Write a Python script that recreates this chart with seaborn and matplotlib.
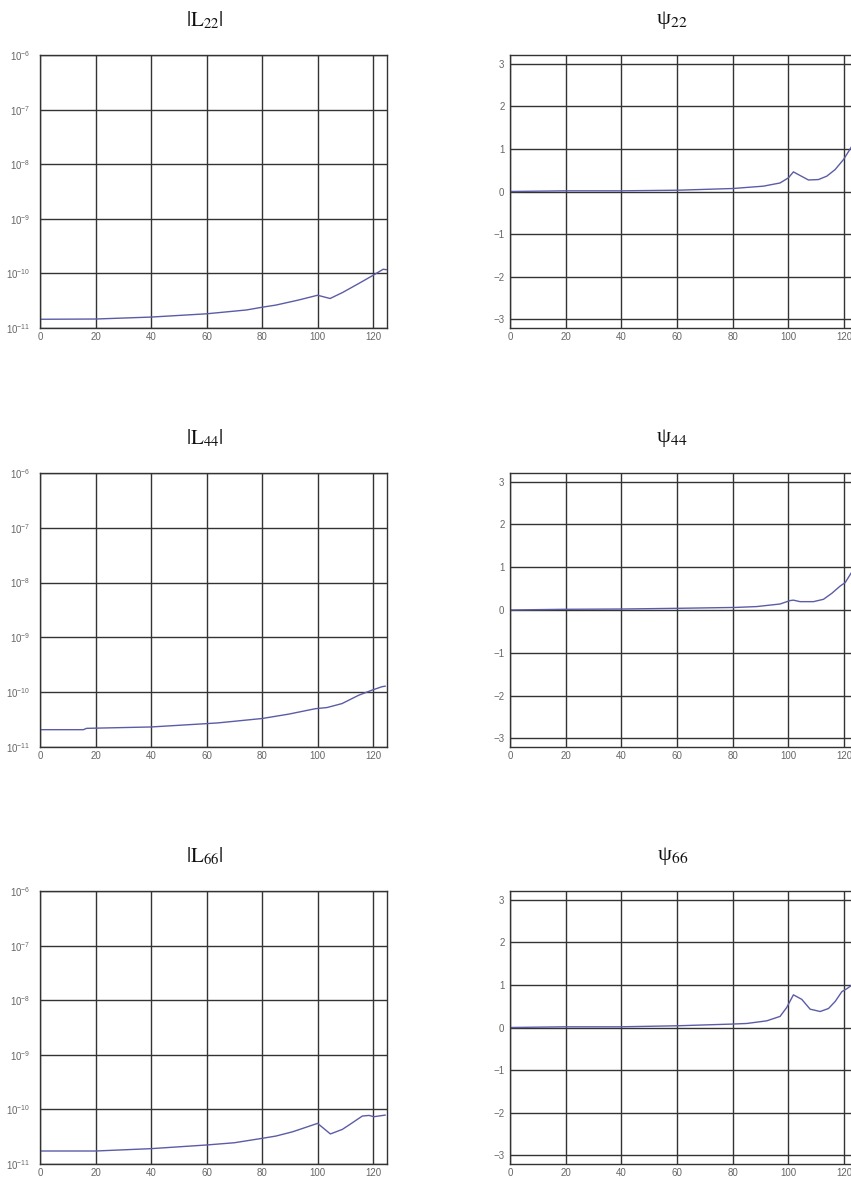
import matplotlib
matplotlib.use("Agg")
import matplotlib.pyplot as plt
import seaborn as sns
import pandas as pd
from matplotlib.ticker import LogLocator, FixedLocator

# Mode index (sample number) for each series
x_L22 = [0, 20, 40, 60, 74.4, 80, 85, 93, 100, 104.5, 109, 115, 120, 123.6, 124.8]
L22 = [1.445e-11, 1.46e-11, 1.585e-11, 1.82e-11, 2.14e-11, 2.40e-11, 2.63e-11,
       3.24e-11, 3.98e-11, 3.47e-11, 4.47e-11, 6.61e-11, 9.23e-11, 1.19e-10, 1.17e-10]

x_L44 = [0, 15.6, 16.8, 40, 60, 64, 80, 89.6, 99.2, 103.4, 108.8, 114.8, 119.6, 123.2, 124.4]
L44 = [2.07e-11, 2.07e-11, 2.19e-11, 2.32e-11, 2.67e-11, 2.75e-11, 3.31e-11, 3.98e-11,
       5.0e-11, 5.25e-11, 6.2e-11, 8.8e-11, 1.09e-10, 1.26e-10, 1.29e-10]

x_L66 = [0, 20, 40, 60, 70, 80, 85, 91, 100, 104.6, 108.9, 111.3, 116.1, 118.5, 120.3, 124.4]
L66 = [1.73e-11, 1.73e-11, 1.91e-11, 2.23e-11, 2.45e-11, 2.95e-11, 3.25e-11, 3.89e-11,
       5.55e-11, 3.55e-11, 4.3e-11, 5.17e-11, 7.55e-11, 7.76e-11, 7.35e-11, 7.87e-11]

x_P22 = [0, 20, 40, 60, 80, 91, 97, 100, 101.8, 104.2, 107.2, 110.8, 113.8, 116.8, 119.8, 122.4, 124]
P22 = [0, 0.016, 0.016, 0.03, 0.07, 0.125, 0.2, 0.32, 0.46, 0.375, 0.27, 0.28, 0.36,
       0.515, 0.75, 1.02, 1.2]

x_P44 = [0, 19.2, 40.5, 60.9, 81, 88.6, 97, 100.6, 101.8, 104.2, 109, 112.6, 115.6, 118.6, 120.4, 122.5, 124]
P44 = [0, 0.016, 0.023, 0.04, 0.06, 0.08, 0.14, 0.22, 0.23, 0.195, 0.195, 0.25, 0.39,
       0.56, 0.64, 0.86, 1.0]

x_P66 = [0, 19.8, 39.5, 60, 79.6, 85, 92.2, 97, 99.4, 101.8, 104.8, 107.8, 111.4, 114.4,
         116.8, 119.2, 121, 122.5, 124]
P66 = [0, 0.016, 0.016, 0.04, 0.08, 0.094, 0.156, 0.26, 0.47, 0.766, 0.66, 0.43, 0.375,
       0.445, 0.61, 0.84, 0.91, 0.98, 1.03]

mag_titles = [r"$|\mathrm{L}_{22}|$", r"$|\mathrm{L}_{44}|$", r"$|\mathrm{L}_{66}|$"]
phase_titles = [r"ψ$_{22}$", r"ψ$_{44}$", r"ψ$_{66}$"]
x_ticks = [0, 20, 40, 60, 80, 100, 120]
phase_ticks = [-3, -2, -1, 0, 1, 2, 3]

sns.set_style("white")
plt.rcParams["font.family"] = ["Liberation Sans", "DejaVu Sans"]

W, H = 851, 1182
fig = plt.figure(figsize=(W / 100, H / 100), dpi=100)

line_color = "#5b5ca6"
grid_color = "#333333"
label_color = "#666666"

rows = [(55, 328), (473, 747), (891, 1164)]
mag_data = [(x_L22, L22), (x_L44, L44), (x_L66, L66)]
phase_data = [(x_P22, P22), (x_P44, P44), (x_P66, P66)]


def style_axes(ax):
    ax.grid(True, color=grid_color, linewidth=1.0)
    ax.set_axisbelow(True)
    for s in ax.spines.values():
        s.set_color(grid_color)
        s.set_linewidth(1.0)
    ax.tick_params(length=0, labelsize=7, labelcolor=label_color)
    ax.tick_params(axis="x", pad=3)
    ax.set_xlabel("")
    ax.set_ylabel("")


for i, (top, bot) in enumerate(rows):
    b = 1 - bot / H
    h = (bot - top) / H

    # magnitude panel (log scale)
    ax = fig.add_axes([40 / W, b, 347 / W, h])
    xs, ys = mag_data[i]
    df = pd.DataFrame({"n": xs, "v": ys})
    sns.lineplot(data=df, x="n", y="v", ax=ax, color=line_color, linewidth=1.0)
    ax.set_yscale("log")
    ax.set_ylim(1e-11, 1e-6)
    ax.set_xlim(0, 125)
    ax.xaxis.set_major_locator(FixedLocator(x_ticks))
    ax.yaxis.set_major_locator(LogLocator(base=10, numticks=10))
    ax.yaxis.set_minor_locator(FixedLocator([]))
    style_axes(ax)
    ax.tick_params(axis="y", pad=7)
    ax.text(0.474, 1.128, mag_titles[i], transform=ax.transAxes, ha="center",
            va="center", fontsize=15, math_fontfamily="stix", color="#111111")

    # phase panel
    ax2 = fig.add_axes([510 / W, b, 348 / W, h])
    xs, ys = phase_data[i]
    df2 = pd.DataFrame({"n": xs, "v": ys})
    sns.lineplot(data=df2, x="n", y="v", ax=ax2, color=line_color, linewidth=1.0)
    ax2.set_ylim(-3.2, 3.2)
    ax2.set_xlim(0, 125)
    ax2.xaxis.set_major_locator(FixedLocator(x_ticks))
    ax2.yaxis.set_major_locator(FixedLocator(phase_ticks))
    style_axes(ax2)
    ax2.tick_params(axis="y", pad=4)
    ax2.text(0.466, 1.128, phase_titles[i], transform=ax2.transAxes, ha="center",
             va="center", fontsize=16, family=["Liberation Serif", "DejaVu Serif"],
             math_fontfamily="stix", color="#111111")

fig.savefig("out.png", dpi=100)
